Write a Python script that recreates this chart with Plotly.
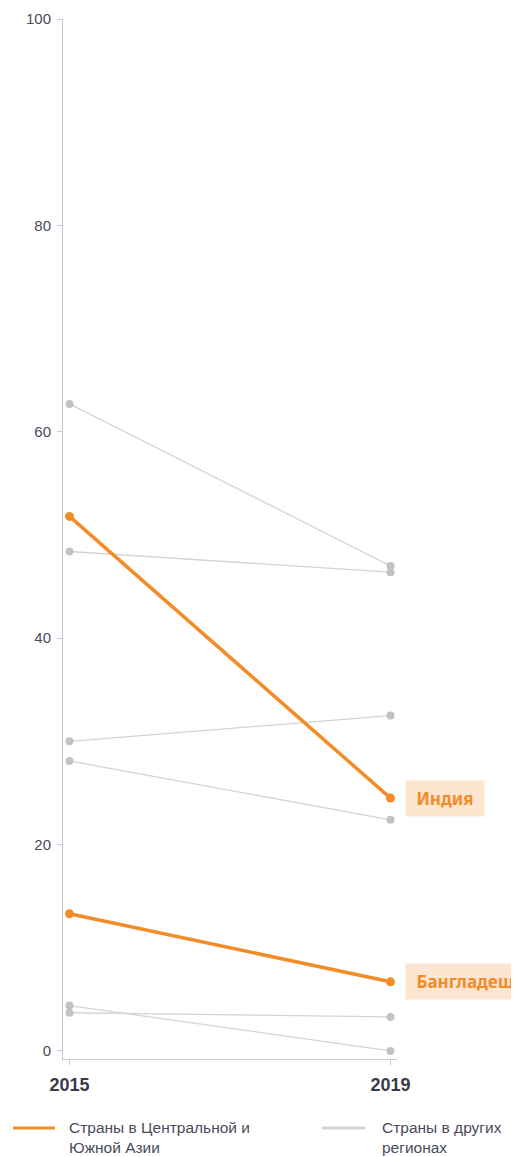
import plotly.graph_objects as go

years = [2015, 2019]

# countries of Central and South Asia (highlighted)
highlight_names = ['Индия', 'Бангладеш']
highlight_values = [
    [51.8, 24.5],
    [13.3, 6.7],
]

# countries in other regions
other_values = [
    [62.7, 47.0],
    [48.4, 46.4],
    [30.0, 32.5],
    [28.1, 22.4],
    [4.4, 0.0],
    [3.7, 3.3],
]

y_ticks = [0, 20, 40, 60, 80, 100]
legend_labels = ['Страны в Центральной и<br>Южной Азии', 'Страны в других<br>регионах']

ORANGE = '#f28c28'
GRAY_LINE = '#d4d4d6'
GRAY_DOT = '#c2c2c6'
TEXT = '#4a4a5c'

# page body has an 8px margin, so the figure is shrunk and shifted by it
OFF = 8
W, H = 519 - OFF, 1157 - OFF


def px(v):
    return (v - OFF) / W


def py(v):
    return 1 - (v - OFF) / H


fig = go.Figure()

for vals in other_values:
    fig.add_trace(go.Scatter(
        x=years, y=vals, mode='lines+markers',
        line=dict(color=GRAY_LINE, width=1.3),
        marker=dict(color=GRAY_DOT, size=8),
        showlegend=False, hoverinfo='skip'
    ))

for name, vals in zip(highlight_names, highlight_values):
    fig.add_trace(go.Scatter(
        x=years, y=vals, mode='lines+markers', name=name,
        line=dict(color=ORANGE, width=3.5),
        marker=dict(color=ORANGE, size=9),
        showlegend=False
    ))
    fig.add_annotation(
        x=years[-1], y=vals[-1], xref='x', yref='y',
        text='\u00a0<b>' + name + '</b>\u00a0', showarrow=False,
        xanchor='left', yanchor='middle', xshift=14,
        font=dict(family='Noto Sans', size=17, color=ORANGE),
        bgcolor='#fde5d0', borderpad=6
    )

# manual legend
legend_x = [(13, 55, 67), (322, 365, 380)]
legend_colors = [ORANGE, GRAY_LINE]
for (x0, x1, xt), col, lab in zip(legend_x, legend_colors, legend_labels):
    fig.add_shape(type='line', xref='paper', yref='paper',
                  x0=px(x0), x1=px(x1), y0=py(1128), y1=py(1128),
                  line=dict(color=col, width=3))
    fig.add_annotation(x=px(xt), y=py(1117), xref='paper', yref='paper',
                       text=lab, showarrow=False, xanchor='left', yanchor='top',
                       align='left',
                       font=dict(family='Liberation Sans', size=15.5, color=TEXT))

fig.update_layout(
    width=W, height=H,
    margin=dict(l=0, r=0, t=0, b=0),
    plot_bgcolor='white', paper_bgcolor='white',
    font=dict(family='Liberation Sans', color=TEXT),
    xaxis=dict(
        domain=[px(63), px(397)],
        range=[2014.919, 2019.081],
        tickvals=years, ticktext=[str(y) for y in years],
        showgrid=False, zeroline=False,
        showline=True, linecolor='#c8c8cc', linewidth=1,
        ticks='outside', ticklen=5, tickcolor='#c8c8cc',
        ticklabelstandoff=4,
        tickfont=dict(family='Liberation Sans', size=18, color='#3a3a4a', weight='bold'),
        automargin=False, fixedrange=True
    ),
    yaxis=dict(
        domain=[py(1059), py(19)],
        range=[-0.78, 100],
        tickvals=y_ticks,
        showgrid=False, zeroline=False,
        showline=True, linecolor='#c8c8cc', linewidth=1,
        ticks='outside', ticklen=5, tickcolor='#c8c8cc',
        ticklabelstandoff=3,
        tickfont=dict(size=15, color=TEXT),
        automargin=False, fixedrange=True
    ),
)

fig.write_html('out.html')
